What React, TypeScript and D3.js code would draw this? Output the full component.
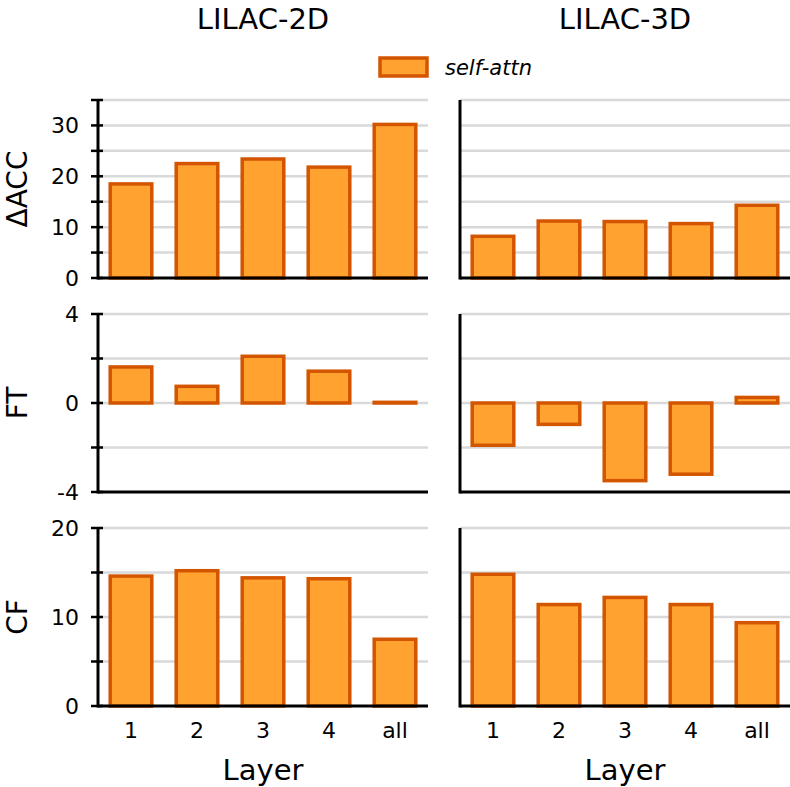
import * as d3 from 'd3';
import { useEffect, useRef } from 'react';

const layers = ["1", "2", "3", "4", "all"];
const datasets = ["LILAC-2D", "LILAC-3D"];
const metrics = ["ΔACC", "FT", "CF"];

// self-attn values per metric, [2D, 3D]
const accValues = [
    [18.5, 22.5, 23.4, 21.8, 30.2],
    [8.2, 11.2, 11.1, 10.7, 14.3],
];
const ftValues = [
    [1.62, 0.75, 2.1, 1.43, 0.03],
    [-1.9, -0.96, -3.49, -3.2, 0.25],
];
const cfValues = [
    [14.6, 15.2, 14.4, 14.3, 7.5],
    [14.8, 11.4, 12.2, 11.4, 9.36],
];

const domains = [[0, 35], [-4, 4], [0, 20]];
const tickValues = [
    [0, 5, 10, 15, 20, 25, 30, 35],
    [-4, -2, 0, 2, 4],
    [0, 5, 10, 15, 20],
];
const tickLabels = [
    [0, 10, 20, 30],
    [-4, 0, 4],
    [0, 10, 20],
];
const gridValues = [
    [5, 10, 15, 20, 25, 30, 35],
    [-2, 0, 2, 4],
    [5, 10, 15, 20],
];

const App = () => {
    const ref = useRef<SVGSVGElement>(null);

    useEffect(() => {
        const svg = d3.select(ref.current);
        svg.selectAll("*").remove();
        const font = "DejaVu Sans";
        const fill = "#ffa230";
        const stroke = "#d45500";
        const allValues = [accValues, ftValues, cfValues];

        const rowBottoms = [278, 492, 706];
        const rowHeight = 178;
        const colRanges = [[98, 428], [460, 790]];

        for (let r = 0; r < 3; r++) {
            const y = d3.scaleLinear()
                .domain(domains[r])
                .range([rowBottoms[r], rowBottoms[r] - rowHeight]);
            for (let c = 0; c < 2; c++) {
                const x = d3.scaleBand()
                    .domain(layers)
                    .range(colRanges[c] as [number, number])
                    .paddingInner(0.37)
                    .paddingOuter(0.185);
                const g = svg.append("g");

                // gridlines
                g.selectAll(".grid")
                    .data(gridValues[r])
                    .enter().append("line")
                    .attr("x1", colRanges[c][0])
                    .attr("x2", colRanges[c][1])
                    .attr("y1", (d) => y(d))
                    .attr("y2", (d) => y(d))
                    .attr("stroke", "#d9d9d9")
                    .attr("stroke-width", 2.5);

                // bars
                const vals = allValues[r][c];
                g.selectAll(".bar")
                    .data(vals)
                    .enter().append("rect")
                    .attr("x", (_d, i) => x(layers[i])!)
                    .attr("width", x.bandwidth())
                    .attr("y", (d) => y(Math.max(0, d)))
                    .attr("height", (d) => Math.abs(y(d) - y(0)))
                    .attr("fill", fill)
                    .attr("stroke", stroke)
                    .attr("stroke-width", 3.5);

                // spines
                g.append("line")
                    .attr("x1", colRanges[c][0]).attr("x2", colRanges[c][0])
                    .attr("y1", y(domains[r][0]) + 1.5).attr("y2", y(domains[r][1]))
                    .attr("stroke", "#000").attr("stroke-width", 3);
                g.append("line")
                    .attr("x1", colRanges[c][0]).attr("x2", colRanges[c][1])
                    .attr("y1", y(domains[r][0])).attr("y2", y(domains[r][0]))
                    .attr("stroke", "#000").attr("stroke-width", 3);

                if (c === 0) {
                    g.selectAll(".tick")
                        .data(tickValues[r])
                        .enter().append("line")
                        .attr("x1", colRanges[c][0] - 7)
                        .attr("x2", colRanges[c][0] + 5)
                        .attr("y1", (d) => y(d))
                        .attr("y2", (d) => y(d))
                        .attr("stroke", "#000")
                        .attr("stroke-width", 2.5);
                    g.selectAll(".tlabel")
                        .data(tickLabels[r])
                        .enter().append("text")
                        .attr("x", colRanges[c][0] - 19)
                        .attr("y", (d) => y(d))
                        .attr("dy", "0.36em")
                        .attr("text-anchor", "end")
                        .style("font-family", font)
                        .style("font-size", "22px")
                        .text((d) => String(d));
                    // metric label
                    const cy = y((domains[r][0] + domains[r][1]) / 2);
                    g.append("text")
                        .attr("transform", "translate(" + 27 + "," + cy + ")rotate(-90)")
                        .attr("text-anchor", "middle")
                        .style("font-family", font)
                        .style("font-size", "28px")
                        .text(metrics[r]);
                }

                if (r === 0) {
                    g.append("text")
                        .attr("x", (colRanges[c][0] + colRanges[c][1]) / 2)
                        .attr("y", 29)
                        .attr("text-anchor", "middle")
                        .style("font-family", font)
                        .style("font-size", "29px")
                        .text(datasets[c]);
                }

                if (r === 2) {
                    g.selectAll(".xlabel")
                        .data(layers)
                        .enter().append("text")
                        .attr("x", (d) => x(d)! + x.bandwidth() / 2)
                        .attr("y", 738)
                        .attr("text-anchor", "middle")
                        .style("font-family", font)
                        .style("font-size", "22px")
                        .text((d) => d);
                    g.append("text")
                        .attr("x", (colRanges[c][0] + colRanges[c][1]) / 2)
                        .attr("y", 780)
                        .attr("text-anchor", "middle")
                        .style("font-family", font)
                        .style("font-size", "29px")
                        .text("Layer");
                }
            }
        }

        // legend
        svg.append("rect")
            .attr("x", 380).attr("y", 58)
            .attr("width", 47).attr("height", 18)
            .attr("fill", fill).attr("stroke", stroke).attr("stroke-width", 3.5);
        svg.append("text")
            .attr("x", 445).attr("y", 75)
            .style("font-family", font)
            .style("font-size", "21px")
            .style("font-style", "italic")
            .text("self-attn");
    }, []);

    return (
        <svg ref={ref} width={790} height={787}
            style={{ position: "absolute", left: 0, top: 0, background: "#fff" }} />
    );
};

export default App;
